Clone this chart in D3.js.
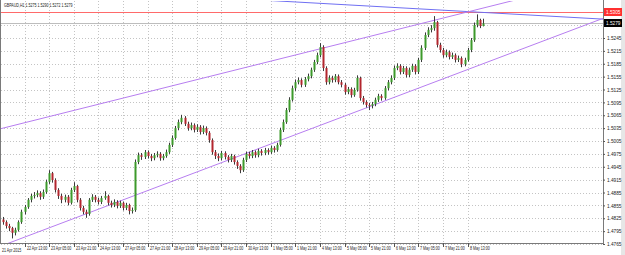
<!DOCTYPE html>
<html>
<head>
<meta charset="utf-8">
<script src="https://cdn.jsdelivr.net/npm/d3@7"></script>
<style>
  body { margin: 0; background: #fff; }
  svg { display: block; font-family: "Liberation Sans", Arial, sans-serif; }
</style>
</head>
<body>
<div class="chart"></div>
<script>
let FRAME_WIDTH = 625;
let FRAME_HEIGHT = 255;
let PLOT = {left: 1, right: 603, top: 1, bottom: 243};
let FONT = "Liberation Sans, Arial, sans-serif";
let NARROW = 0.72;   // horizontal squeeze of the tiny screenshot text

// chart title (symbol, timeframe, last bar OHLC)
const TITLE = "GBPAUD,H1  1.5275 1.5290 1.5272 1.5279";

// candles (open = previous close)
const FIRST_OPEN = 1.4822;
const closes = [1.4816,1.4807,1.4802,1.4791,1.4798,1.4816,1.4840,1.4851,1.4868,1.4877,
  1.4879,1.4884,1.4875,1.4886,1.4910,1.4930,1.4914,1.4891,1.4877,1.4868,
  1.4875,1.4861,1.4891,1.4900,1.4868,1.4849,1.4840,1.4835,1.4868,1.4875,
  1.4868,1.4863,1.4872,1.4877,1.4861,1.4856,1.4863,1.4854,1.4861,1.4849,
  1.4856,1.4842,1.4844,1.4956,1.4972,1.4968,1.4979,1.4970,1.4965,1.4972,
  1.4975,1.4965,1.4970,1.4979,1.4996,1.5012,1.5035,1.5049,1.5059,1.5045,
  1.5035,1.5042,1.5031,1.5038,1.5026,1.5035,1.5024,1.5007,1.4979,1.4970,
  1.4965,1.4977,1.4968,1.4961,1.4970,1.4956,1.4947,1.4937,1.4961,1.4975,
  1.4970,1.4979,1.4972,1.4982,1.4977,1.4984,1.4979,1.4989,1.4984,1.4996,
  1.5031,1.5049,1.5077,1.5101,1.5128,1.5142,1.5147,1.5136,1.5149,1.5156,
  1.5171,1.5189,1.5205,1.5224,1.5175,1.5142,1.5152,1.5147,1.5156,1.5142,
  1.5136,1.5119,1.5126,1.5112,1.5124,1.5152,1.5105,1.5096,1.5089,1.5087,
  1.5091,1.5101,1.5110,1.5105,1.5128,1.5142,1.5152,1.5175,1.5180,1.5166,
  1.5175,1.5159,1.5171,1.5180,1.5166,1.5194,1.5222,1.5252,1.5264,1.5268,
  1.5282,1.5229,1.5217,1.5205,1.5212,1.5201,1.5205,1.5194,1.5198,1.5184,
  1.5194,1.5217,1.5240,1.5275,1.5287,1.5273,1.5279];
const highs = [1.4828,1.4820,1.4812,1.4805,1.4803,1.4820,1.4845,1.4856,1.4872,1.4882,
  1.4886,1.4890,1.4888,1.4892,1.4915,1.4937,1.4933,1.4918,1.4895,1.4882,
  1.4880,1.4879,1.4896,1.4909,1.4903,1.4872,1.4854,1.4845,1.4872,1.4881,
  1.4879,1.4873,1.4877,1.4888,1.4880,1.4866,1.4869,1.4867,1.4866,1.4864,
  1.4861,1.4859,1.4850,1.4962,1.4978,1.4977,1.4984,1.4983,1.4975,1.4977,
  1.4981,1.4979,1.4975,1.4985,1.5001,1.5018,1.5040,1.5055,1.5066,1.5063,
  1.5050,1.5048,1.5046,1.5044,1.5042,1.5041,1.5039,1.5028,1.5011,1.4984,
  1.4976,1.4982,1.4981,1.4972,1.4975,1.4973,1.4960,1.4951,1.4966,1.4980,
  1.4980,1.4984,1.4983,1.4987,1.4986,1.4989,1.4988,1.4994,1.4993,1.5001,
  1.5036,1.5055,1.5082,1.5107,1.5134,1.5148,1.5153,1.5151,1.5154,1.5162,
  1.5176,1.5194,1.5211,1.5233,1.5228,1.5179,1.5158,1.5157,1.5161,1.5160,
  1.5147,1.5140,1.5131,1.5130,1.5129,1.5158,1.5155,1.5110,1.5100,1.5094,
  1.5096,1.5106,1.5115,1.5114,1.5133,1.5147,1.5158,1.5181,1.5186,1.5184,
  1.5180,1.5179,1.5176,1.5185,1.5184,1.5199,1.5228,1.5258,1.5270,1.5275,
  1.5296,1.5285,1.5234,1.5222,1.5218,1.5216,1.5211,1.5209,1.5204,1.5202,
  1.5199,1.5222,1.5245,1.5281,1.5300,1.5290,1.5290];
const lows = [1.4810,1.4801,1.4795,1.4778,1.4785,1.4794,1.4812,1.4834,1.4847,1.4862,
  1.4871,1.4874,1.4868,1.4870,1.4882,1.4905,1.4908,1.4885,1.4870,1.4860,
  1.4862,1.4855,1.4857,1.4886,1.4862,1.4843,1.4834,1.4826,1.4831,1.4863,
  1.4862,1.4857,1.4858,1.4868,1.4855,1.4850,1.4851,1.4848,1.4849,1.4843,
  1.4844,1.4834,1.4836,1.4840,1.4951,1.4961,1.4963,1.4964,1.4958,1.4960,
  1.4967,1.4959,1.4960,1.4966,1.4975,1.4991,1.5008,1.5030,1.5044,1.5040,
  1.5029,1.5030,1.5025,1.5026,1.5020,1.5021,1.5018,1.5001,1.4973,1.4963,
  1.4958,1.4960,1.4962,1.4955,1.4956,1.4950,1.4940,1.4930,1.4933,1.4956,
  1.4964,1.4965,1.4966,1.4967,1.4971,1.4972,1.4973,1.4975,1.4978,1.4980,
  1.4992,1.5026,1.5045,1.5072,1.5097,1.5122,1.5137,1.5130,1.5131,1.5144,
  1.5151,1.5166,1.5184,1.5200,1.5168,1.5136,1.5137,1.5141,1.5142,1.5137,
  1.5130,1.5113,1.5114,1.5106,1.5108,1.5120,1.5099,1.5090,1.5083,1.5077,
  1.5081,1.5086,1.5096,1.5099,1.5101,1.5123,1.5137,1.5147,1.5170,1.5160,
  1.5161,1.5153,1.5154,1.5166,1.5160,1.5161,1.5189,1.5217,1.5247,1.5258,
  1.5262,1.5223,1.5211,1.5199,1.5200,1.5195,1.5196,1.5188,1.5189,1.5177,
  1.5179,1.5190,1.5212,1.5236,1.5270,1.5268,1.5272];

// time axis: bar index of each label and its text
const timeTickIdx = [7,15,23,31,39,47,55,63,71,79,87,95,103,111,119,127,135,143,151];
const timeLabels = ["22 Apr 13:00","23 Apr 05:00","23 Apr 21:00","24 Apr 13:00","27 Apr 05:00",
  "27 Apr 21:00","28 Apr 13:00","29 Apr 05:00","29 Apr 21:00","30 Apr 13:00","1 May 05:00",
  "1 May 21:00","4 May 13:00","5 May 05:00","5 May 21:00","6 May 13:00","7 May 05:00",
  "7 May 21:00","8 May 13:00"];
const FIRST_DATE = "21 Apr 2015";

// price axis
const priceTicks = [1.4765,1.4795,1.4825,1.4855,1.4885,1.4915,1.4945,1.4975,1.5005,
  1.5035,1.5065,1.5095,1.5125,1.5155,1.5185,1.5215,1.5245];
const gridPrices = priceTicks.concat([1.5275, 1.5305]);
const BID = 1.5279;
const RED_LEVEL = 1.5305;

// trend lines: two anchors each [bar index, price]
const upperChannel = [[0, 1.5035], [140, 1.5286]];
const lowerChannel = [[0, 1.4762], [156, 1.5185]];
const blueLine = [[150, 1.5307], [190, 1.5291]];

let svg = d3.select(".chart").append("svg")
  .attr("width", FRAME_WIDTH)
  .attr("height", FRAME_HEIGHT);

svg.append("defs").append("clipPath").attr("id", "plotclip")
  .append("rect")
  .attr("x", PLOT.left).attr("y", PLOT.top)
  .attr("width", PLOT.right - PLOT.left).attr("height", PLOT.bottom - PLOT.top);

const X = d3.scaleLinear().domain([0, 156]).range([3, 483]);
const Y = d3.scaleLinear().domain([1.4765, 1.5245]).range([244, 38]);

let candles = closes.map((c, i) => ({
  i: i,
  o: i === 0 ? FIRST_OPEN : closes[i - 1],
  h: highs[i], l: lows[i], c: c
}));

// window strip on the far right
svg.append("rect").attr("x", 621).attr("y", 0).attr("width", 4).attr("height", FRAME_HEIGHT)
  .attr("fill", "#e6e6e6");

// grid
let grid = svg.append("g").attr("stroke", "#c4c4c4").attr("stroke-dasharray", "1,2");
grid.selectAll("line.h").data(gridPrices).enter().append("line")
  .attr("x1", PLOT.left).attr("x2", PLOT.right)
  .attr("y1", d => Math.round(Y(d)) + 0.5).attr("y2", d => Math.round(Y(d)) + 0.5);
grid.selectAll("line.v").data(timeTickIdx).enter().append("line")
  .attr("x1", d => Math.round(X(d)) + 0.5).attr("x2", d => Math.round(X(d)) + 0.5)
  .attr("y1", PLOT.top).attr("y2", PLOT.bottom);

let plot = svg.append("g").attr("clip-path", "url(#plotclip)");

// bid line
plot.append("line")
  .attr("x1", PLOT.left).attr("x2", PLOT.right)
  .attr("y1", Math.round(Y(BID)) + 0.5).attr("y2", Math.round(Y(BID)) + 0.5)
  .attr("stroke", "#bdbdbd");

// red horizontal level
plot.append("line")
  .attr("x1", PLOT.left).attr("x2", PLOT.right)
  .attr("y1", Math.round(Y(RED_LEVEL)) + 0.5).attr("y2", Math.round(Y(RED_LEVEL)) + 0.5)
  .attr("stroke", "#ff6a6a");

function drawTrend(anchors, from, to, color) {
  const [a, b] = anchors;
  const at = i => a[1] + (b[1] - a[1]) * (i - a[0]) / (b[0] - a[0]);
  plot.append("line")
    .attr("x1", X(from)).attr("y1", Y(at(from)))
    .attr("x2", X(to)).attr("y2", Y(at(to)))
    .attr("stroke", color).attr("stroke-width", 1);
}
const rightIdx = X.invert(PLOT.right);
const leftIdx = X.invert(PLOT.left);
drawTrend(blueLine, 80, rightIdx, "#6f6ff2");
drawTrend(upperChannel, leftIdx, rightIdx, "#b77ef0");
drawTrend(lowerChannel, leftIdx, rightIdx, "#b77ef0");

// candles: wick then body
plot.selectAll("line.wick").data(candles).enter().append("line")
  .attr("class", "wick")
  .attr("x1", d => Math.round(X(d.i)) + 0.5).attr("x2", d => Math.round(X(d.i)) + 0.5)
  .attr("y1", d => Y(d.h)).attr("y2", d => Y(d.l))
  .attr("stroke", "#3a3a3a").attr("stroke-width", 1);

plot.selectAll("rect.body").data(candles).enter().append("rect")
  .attr("class", "body")
  .attr("x", d => Math.round(X(d.i)) - 0.5)
  .attr("width", 2)
  .attr("y", d => Y(Math.max(d.o, d.c)))
  .attr("height", d => Math.max(1, Math.abs(Y(d.o) - Y(d.c))))
  .attr("fill", d => d.c >= d.o ? "#3d9a2b" : "#b3262e");

// frame lines
svg.append("line").attr("x1", 0.5).attr("x2", 0.5).attr("y1", 0).attr("y2", PLOT.bottom)
  .attr("stroke", "#7a7a7a");

// small text, squeezed sideways like the screenshot's font
function smallText(parent, x, y, str, size, fill) {
  return parent.append("text")
    .attr("transform", "translate(" + x + "," + y + ") scale(" + NARROW + ",1)")
    .attr("font-size", size + "px").attr("font-family", FONT)
    .attr("fill", fill).text(str);
}

// price axis
let yAxis = svg.append("g")
  .attr("transform", "translate(" + PLOT.right + ",0)")
  .call(d3.axisRight(Y).tickValues(priceTicks).tickSize(2).tickPadding(2)
    .tickFormat(d3.format(".4f")));
yAxis.select(".domain").attr("d", "M0.5,0V" + PLOT.bottom).attr("stroke", "#7a7a7a");
yAxis.selectAll("text").attr("font-size", "5.4px").attr("fill", "#222")
  .attr("font-family", FONT).attr("x", 0)
  .attr("transform", "translate(4,0) scale(0.88,1)");
yAxis.selectAll(".tick line").attr("stroke", "#555");

// price boxes
function priceBox(price, fill) {
  const yy = Math.round(Y(price));
  svg.append("rect").attr("x", PLOT.right + 1).attr("y", yy - 4)
    .attr("width", 18).attr("height", 8).attr("fill", fill);
  svg.append("text")
    .attr("transform", "translate(" + (PLOT.right + 3) + "," + (yy + 2) + ") scale(0.88,1)")
    .attr("font-size", "5.4px").attr("font-family", FONT)
    .attr("fill", "#fff").text(price.toFixed(4));
}
priceBox(RED_LEVEL, "#ff3030");
priceBox(BID, "#000");

// time axis
let xAxis = svg.append("g")
  .attr("transform", "translate(0," + PLOT.bottom + ")")
  .call(d3.axisBottom(X).tickValues(timeTickIdx).tickSize(4)
    .tickFormat((d, i) => timeLabels[i]));
xAxis.select(".domain").attr("d", "M0,0.5H" + (PLOT.right + 1)).attr("stroke", "#7a7a7a");
xAxis.selectAll(".tick").attr("transform", d => "translate(" + (Math.round(X(d)) + 0.5) + ",0)");
xAxis.selectAll(".tick line").attr("stroke", "#555");
xAxis.selectAll("text").attr("text-anchor", "start").attr("x", 0).attr("y", 0)
  .attr("dy", "0.71em").attr("font-size", "5px").attr("fill", "#222")
  .attr("font-family", FONT)
  .attr("transform", "translate(1.5,3.5) scale(" + NARROW + ",1)");
smallText(svg, 2, PLOT.bottom + 8.5, FIRST_DATE, 5, "#222");

// title
smallText(svg, 4, 7, TITLE, 5, "#222");
</script>
</body>
</html>
